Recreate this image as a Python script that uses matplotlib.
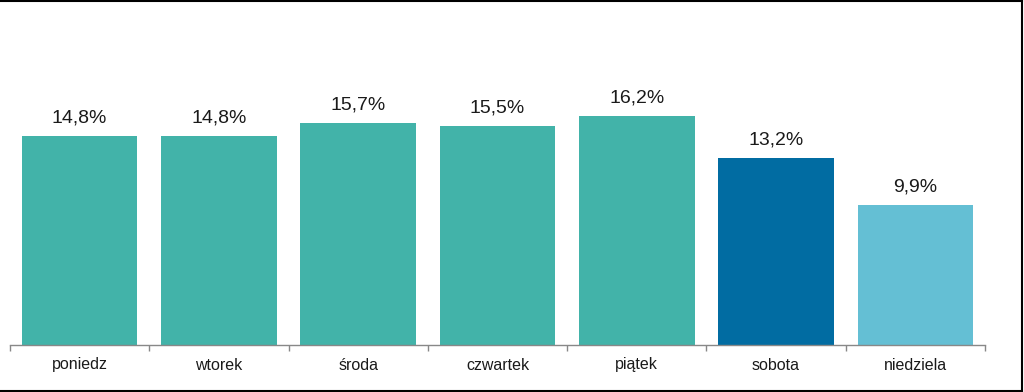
import matplotlib
matplotlib.use("Agg")
import matplotlib.pyplot as plt
from matplotlib.lines import Line2D
import numpy as np

categories = ["poniedz", "wtorek", "środa", "czwartek", "piątek", "sobota", "niedziela"]
values = [14.8, 14.8, 15.7, 15.5, 16.2, 13.2, 9.9]
labels = ["14,8%", "14,8%", "15,7%", "15,5%", "16,2%", "13,2%", "9,9%"]
colors = ["#42B3A9"] * 5 + ["#016CA2", "#64BFD4"]

plt.rcParams['font.family'] = ['Liberation Sans', 'DejaVu Sans']

fig = plt.figure(figsize=(10.24, 3.92), dpi=100)
ax = fig.add_axes([10/1024, 1-345/392, 975/1024, 335/392])
x = np.arange(len(categories))
ax.bar(x, values, width=0.83, color=colors)
for xi, v, lab in zip(x, values, labels):
    ax.annotate(lab, (xi, v), xytext=(0, 7), textcoords="offset points",
                ha="center", va="bottom", fontsize=14, color="#1a1a1a")
ax.set_xlim(-0.5, len(categories) - 0.5)
ax.set_ylim(0, 335/14.13)
ax.set_xticks(x)
ax.set_xticklabels(categories, fontsize=11.5, color="#1a1a1a")
ax.tick_params(axis="x", which="major", length=0, pad=9)
ax.set_xticks(np.arange(-0.5, len(categories)), minor=True)
ax.tick_params(axis="x", which="minor", length=4, color="#888888", width=1)
ax.set_yticks([])
for s in ["top", "right", "left"]:
    ax.spines[s].set_visible(False)
ax.spines["bottom"].set_color("#888888")
ax.spines["bottom"].set_linewidth(1)

# figure frame
fig.add_artist(Line2D([0, 1022/1024], [1-1/392, 1-1/392], color="black", lw=1.5, transform=fig.transFigure))
fig.add_artist(Line2D([1022/1024, 1022/1024], [1-1/392, 1/392], color="black", lw=1.5, transform=fig.transFigure))
fig.add_artist(Line2D([0, 1022/1024], [1.5/392, 1.5/392], color="black", lw=1.5, transform=fig.transFigure))

fig.savefig("out.png", dpi=100)
